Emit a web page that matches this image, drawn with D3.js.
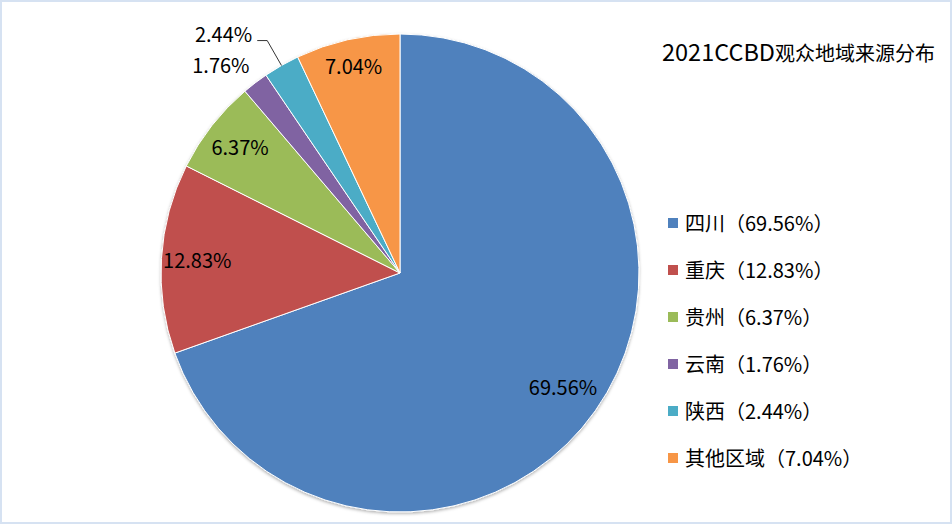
<!DOCTYPE html>
<html><head><meta charset="utf-8">
<script src="https://cdn.jsdelivr.net/npm/d3@7"></script>
<style>body{margin:0;background:#fff}svg{display:block}</style>
</head><body><svg id="c" width="952" height="524"></svg>
<script>
const categories = ["四川", "重庆", "贵州", "云南", "陕西", "其他区域"];
const values = [69.56, 12.83, 6.37, 1.76, 2.44, 7.04];
const colors = ["#4f81bd", "#c0504d", "#9bbb59", "#8064a2", "#4bacc6", "#f79646"];
const titleLatin = "2021CCBD";
const titleCJK = "观众地域来源分布";

const W = 952, H = 524;
const svg = d3.select("#c");
const FONT = "'Noto Sans CJK SC', 'Noto Sans', sans-serif";

// border
svg.append("rect").attr("x", 1).attr("y", 1).attr("width", W - 2).attr("height", H - 2)
  .attr("fill", "#fff").attr("stroke", "#d6e2f2").attr("stroke-width", 2);

const defs = svg.append("defs");
const f = defs.append("filter").attr("id", "sh").attr("x", "-10%").attr("y", "-10%").attr("width", "120%").attr("height", "120%");
f.append("feDropShadow").attr("dx", 0).attr("dy", 1.5).attr("stdDeviation", 1.8)
  .attr("flood-color", "#000").attr("flood-opacity", 0.3);

const cx = 400, cy = 273, r = 239;
const color = d3.scaleOrdinal().domain(categories).range(colors);
const data = categories.map((c, i) => ({ name: c, value: values[i] }));
const pie = d3.pie().sort(null).value(d => d.value);
const arcs = pie(data);
const arc = d3.arc().innerRadius(0).outerRadius(r);

const g = svg.append("g").attr("transform", `translate(${cx},${cy})`);
g.append("g").attr("filter", "url(#sh)")
  .selectAll("path").data(arcs).join("path")
  .attr("d", arc).attr("fill", d => color(d.data.name))
  .attr("stroke", "#fff").attr("stroke-width", 1).attr("stroke-linejoin", "round");

const fmt = v => v.toFixed(2) + "%";
const at = (a, rad) => [Math.sin(a) * rad, -Math.cos(a) * rad];
const leaderFor = new Set(["陕西"]);

const lab = g.append("g").attr("font-family", FONT).attr("font-size", 20).attr("fill", "#000");
arcs.forEach(d => {
  const mid = (d.startAngle + d.endAngle) / 2;
  if (d.data.value >= 3) {
    const k = d.data.name === "其他区域" ? 0.885 : (d.data.name === "四川" ? 0.835 : 0.85);
    const [x, y] = at(mid, r * k);
    lab.append("text").attr("x", x).attr("y", y).attr("dy", "0.35em")
      .attr("text-anchor", "middle").text(fmt(d.data.value));
  } else if (leaderFor.has(d.data.name)) {
    const [ex, ey] = at(mid, r);
    const [bx, by] = at(mid, r * 1.12);
    g.append("path").attr("d", `M${ex},${ey}L${bx},${by}L${bx - 10},${by}`)
      .attr("fill", "none").attr("stroke", "#000").attr("stroke-width", 0.8);
    lab.append("text").attr("x", bx - 15).attr("y", by + 1.5)
      .attr("text-anchor", "end").text(fmt(d.data.value));
  } else {
    const [px, py] = at(mid, r * 1.06);
    lab.append("text").attr("x", px + 3).attr("y", py + 2)
      .attr("text-anchor", "end").text(fmt(d.data.value));
  }
});

// title
const t = svg.append("text").attr("x", 662).attr("y", 61)
  .attr("font-family", FONT).attr("fill", "#000");
t.append("tspan").attr("font-size", 23.5).text(titleLatin);
t.append("tspan").attr("font-size", 20).text(titleCJK);

// legend
const ly = d3.scalePoint().domain(categories).range([222.5, 457.5]);
const lg = svg.append("g").attr("font-family", FONT).attr("font-size", 20).attr("fill", "#000");
data.forEach(d => {
  const y = ly(d.name);
  lg.append("rect").attr("x", 668).attr("y", y - 4.5).attr("width", 10).attr("height", 10).attr("fill", color(d.name));
  lg.append("text").attr("x", 685).attr("y", y + 8.5)
    .text(`${d.name}（${fmt(d.value)}）`);
});
</script></body></html>
